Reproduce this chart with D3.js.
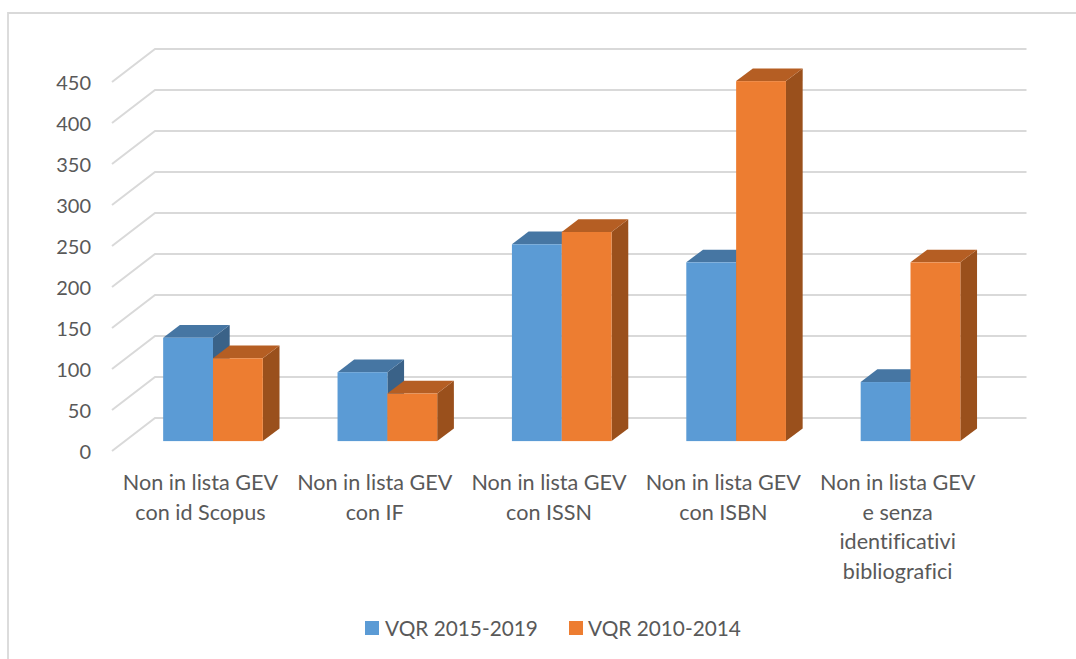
<!DOCTYPE html>
<html><head><meta charset="utf-8">
<script src="https://cdn.jsdelivr.net/npm/d3@7"></script>
<style>html,body{margin:0;padding:0;background:#fff}svg{display:block}text{font-family:Lato,"Open Sans",sans-serif;fill:#595959;font-variant-ligatures:none}</style>
</head><body><svg id="c" width="1076" height="659"></svg>
<script>
const categories = [
  ["Non in lista GEV","con id Scopus"],
  ["Non in lista GEV","con IF"],
  ["Non in lista GEV","con ISSN"],
  ["Non in lista GEV","con ISBN"],
  ["Non in lista GEV","e senza","identificativi","bibliografici"]
];
const seriesNames = ["VQR 2015-2019","VQR 2010-2014"];
const series2015 = [126,84,240,218,72];
const series2010 = [101,58,255,439,218];
const yTicks = [0,50,100,150,200,250,300,350,400,450];
const colors = [{front:"#5b9bd5",top:"#4676a3",side:"#3a6288"},{front:"#ed7d31",top:"#b55e23",side:"#9a501c"}];

const svg = d3.select("#c");
const W=871.5, front={x:112,y:451}, depth={x:43,y:-33}, barFrac=0.3, barDepth={x:16.7,y:-12.7};
const y = d3.scaleLinear().domain([0,450]).range([0,-369]);
const keys = categories.map((d,i)=>i);
const xLabel = d3.scaleBand().domain(keys).range([front.x+2,front.x+2+W]);
const xBar = d3.scaleBand().domain(keys).range([126,126+W]).paddingInner(0.4285).paddingOuter(0.2131);
const xSub = d3.scaleBand().domain([0,1]).range([0,xBar.bandwidth()]);
const base = front.y+depth.y*barFrac;

// frame: top and left edges only
svg.append("path").attr("d","M8,659V13H1076").attr("fill","none").attr("stroke","#d9d9d9").attr("stroke-width",1.8);

// gridlines
svg.append("g").selectAll("path").data(yTicks).join("path")
  .attr("fill","none").attr("stroke","#d9d9d9").attr("stroke-width",2)
  .attr("d",d=>{const fy=front.y+y(d);return `M${front.x},${fy}L${front.x+depth.x},${fy+depth.y}H${front.x+depth.x+W}`;});

// y axis labels
const yAxisScale = d3.scaleLinear().domain([0,450]).range([front.y,front.y-369]);
const ax = svg.append("g").attr("transform","translate(91,0)")
  .call(d3.axisLeft(yAxisScale).tickValues(yTicks).tickSize(0).tickPadding(0).tickFormat(d3.format("d")));
ax.select(".domain").remove();
ax.selectAll("text").style("font-size","20px").style("fill","#595959").attr("dy","0.36em");

// bars
const rows=[];
keys.forEach(i=>{[series2015[i],series2010[i]].forEach((v,s)=>rows.push({i,s,v}));});
const bars = svg.append("g").selectAll("g").data(rows).join("g");
const L=d=>xBar(d.i)+xSub(d.s), R=d=>L(d)+xSub.bandwidth(), T=d=>base+y(d.v);
const dx=barDepth.x, dy=barDepth.y;
bars.append("path").attr("fill",d=>colors[d.s].side)
  .attr("d",d=>`M${R(d)},${T(d)}l${dx},${dy}V${base+dy}L${R(d)},${base}Z`);
bars.append("path").attr("fill",d=>colors[d.s].top)
  .attr("d",d=>`M${L(d)},${T(d)}l${dx},${dy}H${R(d)+dx}L${R(d)},${T(d)}Z`);
bars.append("rect").attr("fill",d=>colors[d.s].front)
  .attr("x",L).attr("y",T).attr("width",xSub.bandwidth()).attr("height",d=>base-T(d));

// category labels
const cat = svg.append("g").selectAll("text").data(keys).join("text")
  .attr("text-anchor","middle").style("font-size","21.6px")
  .attr("x",d=>xLabel(d)+xLabel.bandwidth()/2-0.7).attr("y",490);
cat.selectAll("tspan").data(d=>categories[d]).join("tspan")
  .attr("x",function(){return d3.select(this.parentNode).attr("x");})
  .attr("dy",(d,i)=>i?29.5:0).text(d=>d);

// legend
const lx=[365,569], tx=[385,588];
const leg = svg.append("g").selectAll("g").data(seriesNames).join("g");
leg.append("rect").attr("x",(d,i)=>lx[i]).attr("y",621).attr("width",14).attr("height",14).attr("fill",(d,i)=>colors[i].front);
leg.append("text").attr("x",(d,i)=>tx[i]).attr("y",636).style("font-size","20.8px").text(d=>d);
</script></body></html>
